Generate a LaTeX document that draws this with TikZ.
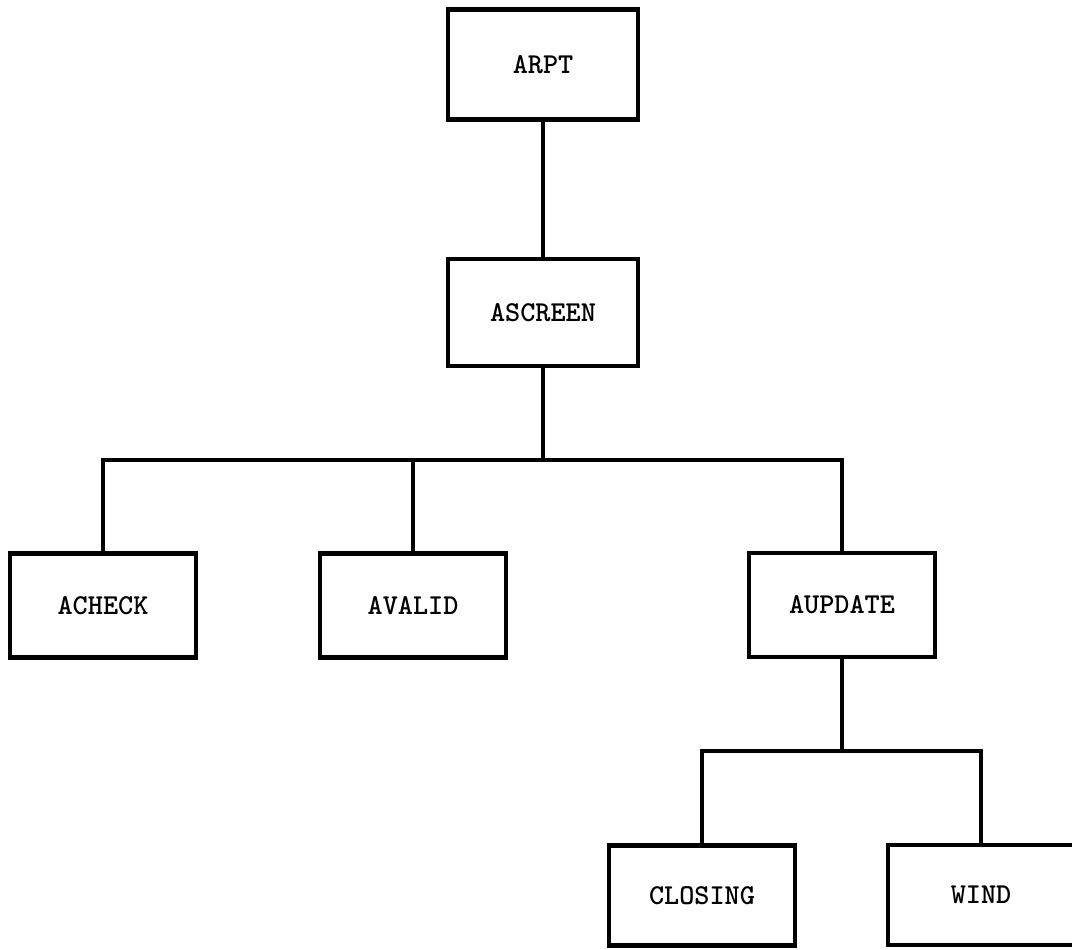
\documentclass[tikz,border=0pt]{standalone}
\usepackage{fontspec}
\usepackage{tikz}
\usetikzlibrary{calc}

\begin{document}
\begin{tikzpicture}[line width=1.3pt,line join=miter,
  main node/.style={rectangle,draw,inner sep=0pt,minimum width=1.9cm,minimum height=1.07cm,
    font=\ttfamily\bfseries\fontsize{8.2}{9}\selectfont},
  low node/.style={main node,minimum width=1.86cm,minimum height=1.04cm}]

  \useasboundingbox (0,0) rectangle (10.72,-9.49);

  \node[main node,minimum height=1.1cm] (1) at (5.43,-0.645) {ARPT};
  \node[main node] (2) at (5.43,-3.125) {ASCREEN};
  \node[low node] (3) at (1.03,-6.055) {ACHECK};
  \node[low node] (4) at (4.13,-6.055) {AVALID};
  \node[low node] (5) at (8.42,-6.05) {AUPDATE};
  \node[low node,minimum height=1.0cm] (6) at (7.02,-8.955) {CLOSING};
  \node[low node,minimum height=1.0cm] (7) at (9.81,-8.95) {WIND};

  \coordinate (b1) at (5.43,-4.60);
  \coordinate (b2) at (8.42,-7.51);

  \draw (1) -- (2);
  \draw (2) -- (b1);
  \draw (b1) -| (3);
  \draw (b1) -| (4);
  \draw (b1) -| (5);
  \draw (5) -- (b2);
  \draw (b2) -| (6);
  \draw (b2) -| (7);
\end{tikzpicture}
\end{document}
